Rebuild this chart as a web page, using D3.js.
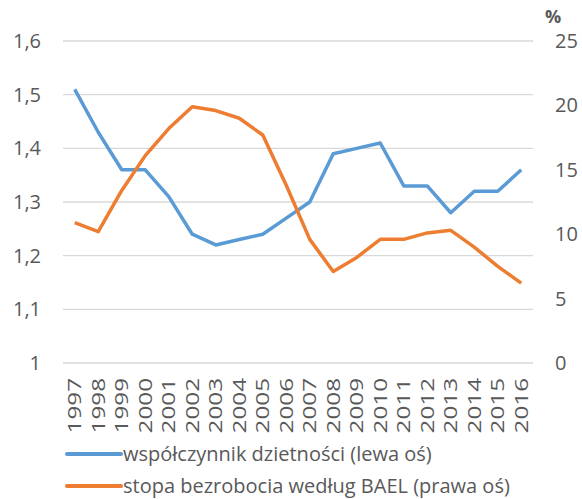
<!DOCTYPE html>
<html>
<head>
<meta charset="utf-8">
<script src="https://cdn.jsdelivr.net/npm/d3@7"></script>
<style>
  body { margin: 0; background: #fff; }
  text { font-family: 'Open Sans', 'Liberation Sans', sans-serif; fill: #595959; }
</style>
</head>
<body>
<div id="chart"></div>
<script>
const years = ['1997','1998','1999','2000','2001','2002','2003','2004','2005','2006','2007','2008','2009','2010','2011','2012','2013','2014','2015','2016']
const fertility = [1.51,1.43,1.36,1.36,1.31,1.24,1.22,1.23,1.24,1.27,1.30,1.39,1.40,1.41,1.33,1.33,1.28,1.32,1.32,1.36]
const unemployment = [10.9,10.2,13.4,16.1,18.2,19.9,19.6,19.0,17.7,13.8,9.6,7.1,8.2,9.6,9.6,10.1,10.3,9.0,7.5,6.2]
const leftTicks = [1, 1.1, 1.2, 1.3, 1.4, 1.5, 1.6]
const rightTicks = [0, 5, 10, 15, 20, 25]
const seriesNames = ['współczynnik dzietności (lewa oś)', 'stopa bezrobocia według BAEL (prawa oś)']

const w = 582
const h = 499
const plotLeft = 63
const plotRight = 533
const plotTop = 41
const plotBottom = 363
const blue = '#5B9BD5'
const orange = '#ED7D31'

const svg = d3.select('#chart').append('svg').attr('width', w).attr('height', h)

const x = d3.scaleBand().domain(years).range([plotLeft, plotRight])
const yL = d3.scaleLinear().domain([1, 1.6]).range([plotBottom, plotTop])
const yR = d3.scaleLinear().domain([0, 25]).range([plotBottom, plotTop])
const fmt = d3.format('.1f')

// grid
svg.append('g')
  .selectAll('line')
  .data(leftTicks)
  .join('line')
  .attr('x1', plotLeft)
  .attr('x2', plotRight)
  .attr('y1', (d) => yL(d))
  .attr('y2', (d) => yL(d))
  .attr('stroke', '#d9d9d9')
  .attr('stroke-width', 1.3)

// left axis
const axL = svg.append('g').attr('transform', 'translate(41,0)')
  .call(d3.axisLeft(yL).tickValues(leftTicks).tickSize(0).tickPadding(0)
    .tickFormat((d) => (d === 1 ? '1' : fmt(d).replace('.', ','))))
axL.select('.domain').remove()
axL.selectAll('text').attr('font-size', 20).attr('fill', '#595959').attr('font-family', null)

// right axis
const axR = svg.append('g').attr('transform', 'translate(555,0)')
  .call(d3.axisRight(yR).tickValues(rightTicks).tickSize(0).tickPadding(0))
axR.select('.domain').remove()
axR.selectAll('text').attr('font-size', 20).attr('fill', '#595959').attr('font-family', null)

svg.append('text').text('%').attr('x', 545).attr('y', 23)
  .attr('font-size', 18).attr('font-weight', 'bold')

// x axis
const axX = svg.append('g').attr('transform', 'translate(0,' + plotBottom + ')')
  .call(d3.axisBottom(x).tickSize(0).tickPadding(0))
axX.select('.domain').remove()
axX.selectAll('text')
  .attr('font-size', 18)
  .attr('fill', '#595959')
  .attr('font-family', null)
  .attr('text-anchor', 'end')
  .attr('transform', 'rotate(-90) scale(1.35,1)')
  .attr('x', -11)
  .attr('y', 0)
  .attr('dy', '0.35em')

const cx = (i) => x(years[i]) + x.bandwidth() / 2

svg.append('path')
  .datum(fertility)
  .attr('fill', 'none')
  .attr('stroke', blue)
  .attr('stroke-width', 3.5)
  .attr('stroke-linejoin', 'round')
  .attr('d', d3.line().x((d, i) => cx(i)).y((d) => yL(d)))

svg.append('path')
  .datum(unemployment)
  .attr('fill', 'none')
  .attr('stroke', orange)
  .attr('stroke-width', 3.5)
  .attr('stroke-linejoin', 'round')
  .attr('d', d3.line().x((d, i) => cx(i)).y((d) => yR(d)))

// legend
const legend = svg.append('g').attr('transform', 'translate(67,454)')
;[blue, orange].forEach((c, i) => {
  legend.append('line')
    .attr('x1', 0).attr('x2', 54)
    .attr('y1', i * 32).attr('y2', i * 32)
    .attr('stroke', c).attr('stroke-width', 4)
    .attr('stroke-linecap', 'round')
  legend.append('text')
    .text(seriesNames[i])
    .attr('x', 56)
    .attr('y', i * 32)
    .attr('dy', '0.35em')
    .attr('font-size', 20)
})
</script>
</body>
</html>
